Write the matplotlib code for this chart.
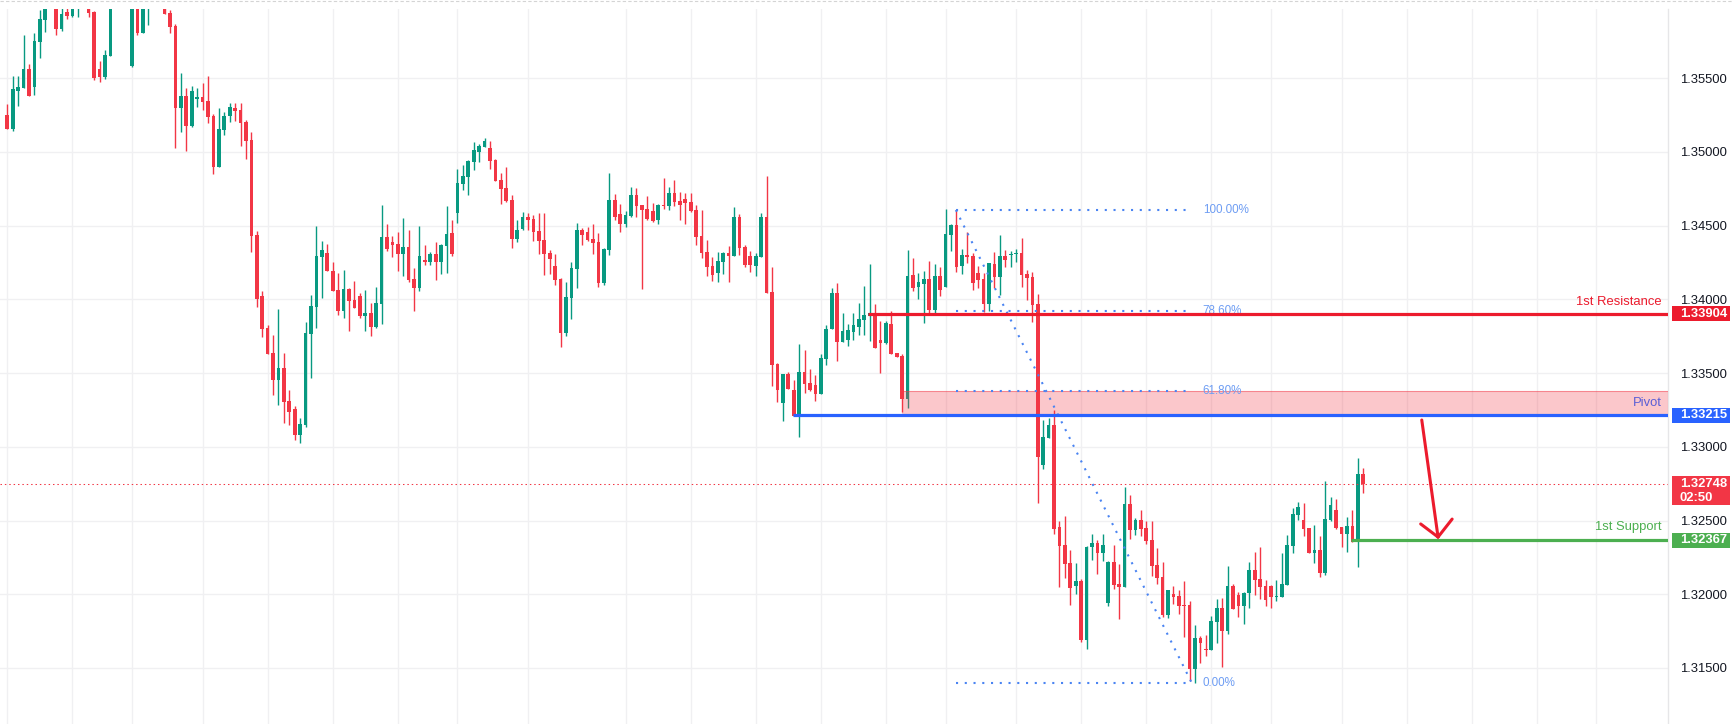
import matplotlib
matplotlib.use('Agg')
import matplotlib.pyplot as plt
from matplotlib.patches import Rectangle
from matplotlib.lines import Line2D
from matplotlib.transforms import blended_transform_factory
import numpy as np

plt.rcParams['font.family'] = ['Liberation Sans', 'DejaVu Sans']

# ---------------- data ----------------
opens = [
    1.35251, 1.35156, 1.35414, 1.35434, 1.35563, 1.35441, 1.35746, 1.35896, 1.36031, 1.36076,
    1.35834, 1.35950, 1.35923, 1.35986, 1.36054, 1.36031, 1.35950, 1.35563, 1.35509, 1.35651,
    1.36031, 1.36122, 1.36076, 1.35584, 1.36076, 1.35807, 1.36009, 1.36076, 1.36099, 1.36054,
    1.35943, 1.35855, 1.35299, 1.35380, 1.35177, 1.35360, 1.35373, 1.35346, 1.35245, 1.34899,
    1.35150, 1.35245, 1.35299, 1.35285, 1.35204, 1.35082, 1.34438, 1.34024, 1.33807, 1.33638,
    1.33455, 1.33536, 1.33312, 1.33258, 1.33082, 1.33150, 1.33767, 1.33950, 1.34289, 1.34316,
    1.34194, 1.34065, 1.33923, 1.34072, 1.33997, 1.34024, 1.33889, 1.33909, 1.33814, 1.33970,
    1.34424, 1.34390, 1.34377, 1.34309, 1.34356, 1.34140, 1.34079, 1.34268, 1.34255, 1.34309,
    1.34255, 1.34363, 1.34451, 1.34587, 1.34783, 1.34830, 1.34932, 1.35000, 1.35034, 1.35027,
    1.34946, 1.34810, 1.34756, 1.34675, 1.34410, 1.34478, 1.34559, 1.34546, 1.34465, 1.34404,
    1.34316, 1.34227, 1.34140, 1.33773, 1.34011, 1.34207, 1.34471, 1.34458, 1.34410, 1.34390,
    1.34112, 1.34336, 1.34675, 1.34580, 1.34512, 1.34566, 1.34708, 1.34641, 1.34614, 1.34600,
    1.34539, 1.34641, 1.34634, 1.34722, 1.34668, 1.34682, 1.34661, 1.34607, 1.34431, 1.34322,
    1.34227, 1.34180, 1.34255, 1.34316, 1.34295, 1.34559, 1.34356, 1.34295, 1.34227, 1.34289,
    1.34559, 1.34051, 1.33563, 1.33299, 1.33495, 1.33387, 1.33211, 1.33509, 1.33435, 1.33421,
    1.33360, 1.33597, 1.33800, 1.34044, 1.33712, 1.33726, 1.33780, 1.33814, 1.33862, 1.33889,
    1.33909, 1.33726, 1.33706, 1.33834, 1.33638, 1.33617, 1.33326, 1.34167, 1.34085, 1.34106,
    1.34140, 1.33929, 1.34160, 1.34085, 1.34438, 1.34505, 1.34227, 1.34302, 1.34295, 1.34180,
    1.34140, 1.33970, 1.34241, 1.34153, 1.34295, 1.34302, 1.34309, 1.34316, 1.34173, 1.34153,
    1.33970, 1.32878, 1.33061, 1.33150, 1.32458, 1.32336, 1.32214, 1.32058, 1.32092, 1.31692,
    1.32322, 1.32349, 1.32281, 1.31943, 1.32220, 1.32072, 1.32052, 1.32614, 1.32438, 1.32506,
    1.32451, 1.32370, 1.32200, 1.32119, 1.31861, 1.32002, 1.31988, 1.31927, 1.31927, 1.31493,
    1.31703, 1.31629, 1.31622, 1.31812, 1.31907, 1.31751, 1.32058, 1.31995, 1.31920, 1.32009,
    1.32164, 1.32104, 1.32058, 1.32058, 1.31981, 1.31981, 1.32065, 1.32329, 1.32537, 1.32503,
    1.32451, 1.32281, 1.32302, 1.32144, 1.32503, 1.32571, 1.32458, 1.32410, 1.32465, 1.32354,
    1.32816,
]
highs = [
    1.35326, 1.35516, 1.35516, 1.35794, 1.35597, 1.35807, 1.35963, 1.36076, 1.36189, 1.36122,
    1.35986, 1.35986, 1.36009, 1.36099, 1.36167, 1.36076, 1.35957, 1.35618, 1.35692, 1.36076,
    1.36167, 1.36189, 1.36122, 1.36076, 1.36122, 1.36076, 1.36122, 1.36167, 1.36144, 1.36099,
    1.35964, 1.35868, 1.35536, 1.35434, 1.35448, 1.35434, 1.35468, 1.35516, 1.35258, 1.35299,
    1.35272, 1.35333, 1.35333, 1.35333, 1.35217, 1.35136, 1.34465, 1.34058, 1.33828, 1.33760,
    1.33936, 1.33638, 1.33387, 1.33278, 1.33197, 1.33848, 1.34031, 1.34499, 1.34397, 1.34377,
    1.34255, 1.34180, 1.34200, 1.34079, 1.34126, 1.34045, 1.34065, 1.33977, 1.34085, 1.34641,
    1.34512, 1.34431, 1.34458, 1.34553, 1.34472, 1.34214, 1.34499, 1.34370, 1.34323, 1.34390,
    1.34377, 1.34634, 1.34539, 1.34885, 1.34912, 1.34946, 1.35068, 1.35055, 1.35095, 1.35075,
    1.34953, 1.34858, 1.34899, 1.34708, 1.34539, 1.34593, 1.34587, 1.34573, 1.34587, 1.34587,
    1.34336, 1.34309, 1.34147, 1.34119, 1.34255, 1.34519, 1.34485, 1.34492, 1.34512, 1.34451,
    1.34349, 1.34858, 1.34715, 1.34647, 1.34600, 1.34763, 1.34756, 1.34641, 1.34702, 1.34654,
    1.34647, 1.34824, 1.34763, 1.34810, 1.34729, 1.34722, 1.34722, 1.34641, 1.34607, 1.34404,
    1.34289, 1.34322, 1.34322, 1.34363, 1.34627, 1.34580, 1.34370, 1.34329, 1.34316, 1.34587,
    1.34838, 1.34220, 1.33570, 1.33495, 1.33509, 1.33455, 1.33699, 1.33658, 1.33529, 1.33489,
    1.33631, 1.33828, 1.34079, 1.34112, 1.33909, 1.33834, 1.33909, 1.33977, 1.34092, 1.34241,
    1.33970, 1.33855, 1.33855, 1.33923, 1.33638, 1.33631, 1.34336, 1.34282, 1.34180, 1.34194,
    1.34261, 1.34241, 1.34220, 1.34614, 1.34512, 1.34607, 1.34343, 1.34458, 1.34316, 1.34227,
    1.34180, 1.34248, 1.34322, 1.34438, 1.34336, 1.34329, 1.34343, 1.34417, 1.34200, 1.34187,
    1.34037, 1.33183, 1.33197, 1.33251, 1.32499, 1.32533, 1.32302, 1.32214, 1.32105, 1.32329,
    1.32410, 1.32370, 1.32410, 1.32227, 1.32336, 1.32207, 1.32729, 1.32675, 1.32519, 1.32574,
    1.32499, 1.32499, 1.32315, 1.32220, 1.32029, 1.32058, 1.32029, 1.32092, 1.31954, 1.31791,
    1.31717, 1.31724, 1.31853, 1.31968, 1.31975, 1.32190, 1.32072, 1.32016, 1.32016, 1.32220,
    1.32286, 1.32320, 1.32099, 1.32065, 1.32099, 1.32281, 1.32404, 1.32585, 1.32626, 1.32619,
    1.32451, 1.32472, 1.32397, 1.32768, 1.32660, 1.32646, 1.32458, 1.32526, 1.32574, 1.32924,
    1.32857,
]
lows = [
    1.35156, 1.35143, 1.35312, 1.35434, 1.35380, 1.35387, 1.35638, 1.35814, 1.36009, 1.35794,
    1.35821, 1.35902, 1.35916, 1.35916, 1.35997, 1.35916, 1.35489, 1.35475, 1.35495, 1.35651,
    1.35997, 1.36009, 1.35986, 1.35577, 1.35794, 1.35807, 1.35862, 1.36031, 1.36009, 1.35936,
    1.35807, 1.35028, 1.35136, 1.35007, 1.35170, 1.35306, 1.35285, 1.35197, 1.34851, 1.34899,
    1.35116, 1.35204, 1.35211, 1.35041, 1.34953, 1.34323, 1.33950, 1.33746, 1.33631, 1.33353,
    1.33285, 1.33163, 1.33150, 1.33048, 1.33028, 1.33136, 1.33468, 1.33807, 1.34011, 1.34194,
    1.34058, 1.33895, 1.33875, 1.33787, 1.33943, 1.33875, 1.33787, 1.33753, 1.33807, 1.33834,
    1.34329, 1.34289, 1.34194, 1.34160, 1.34119, 1.33923, 1.34058, 1.34234, 1.34234, 1.34133,
    1.34173, 1.34180, 1.34295, 1.34519, 1.34742, 1.34708, 1.34878, 1.34932, 1.35034, 1.34885,
    1.34803, 1.34647, 1.34661, 1.34349, 1.34390, 1.34471, 1.34471, 1.34397, 1.34309, 1.34166,
    1.34173, 1.34099, 1.33678, 1.33753, 1.33868, 1.34079, 1.34370, 1.34397, 1.34309, 1.34085,
    1.34099, 1.34302, 1.34539, 1.34458, 1.34492, 1.34559, 1.34559, 1.34072, 1.34539, 1.34525,
    1.34512, 1.34614, 1.34607, 1.34634, 1.34539, 1.34512, 1.34593, 1.34370, 1.34281, 1.34160,
    1.34125, 1.34119, 1.34173, 1.34119, 1.34295, 1.34302, 1.34220, 1.34187, 1.34160, 1.34289,
    1.34044, 1.33414, 1.33306, 1.33172, 1.33394, 1.33211, 1.33064, 1.33367, 1.33380, 1.33312,
    1.33360, 1.33556, 1.33800, 1.33584, 1.33712, 1.33685, 1.33726, 1.33760, 1.33760, 1.33719,
    1.33672, 1.33502, 1.33699, 1.33631, 1.33611, 1.33238, 1.33265, 1.34058, 1.34004, 1.33841,
    1.33902, 1.33909, 1.34024, 1.34085, 1.34329, 1.34187, 1.34173, 1.34248, 1.34065, 1.34079,
    1.33916, 1.33923, 1.34079, 1.34031, 1.34220, 1.34220, 1.34255, 1.34085, 1.33997, 1.33848,
    1.32621, 1.32851, 1.33061, 1.32410, 1.32051, 1.32112, 1.31929, 1.32000, 1.31678, 1.31631,
    1.32234, 1.32139, 1.32227, 1.31923, 1.32038, 1.31834, 1.32052, 1.32377, 1.32404, 1.32397,
    1.32343, 1.32123, 1.32072, 1.31847, 1.31839, 1.31936, 1.31866, 1.31710, 1.31411, 1.31398,
    1.31534, 1.31581, 1.31622, 1.31669, 1.31506, 1.31730, 1.31900, 1.31847, 1.31798, 1.31907,
    1.31995, 1.31968, 1.31920, 1.31907, 1.31954, 1.31981, 1.32065, 1.32281, 1.32503, 1.32397,
    1.32281, 1.32214, 1.32117, 1.32131, 1.32497, 1.32444, 1.32322, 1.32287, 1.32354, 1.32184,
    1.32687,
]
closes = [
    1.35156, 1.35428, 1.35441, 1.35563, 1.35380, 1.35753, 1.35902, 1.36031, 1.36122, 1.35834,
    1.35936, 1.35923, 1.35986, 1.36054, 1.36099, 1.35943, 1.35502, 1.35509, 1.35658, 1.36031,
    1.36122, 1.36076, 1.36009, 1.36031, 1.35807, 1.36031, 1.36076, 1.36099, 1.36054, 1.35936,
    1.35848, 1.35299, 1.35380, 1.35177, 1.35414, 1.35373, 1.35340, 1.35238, 1.34899, 1.35156,
    1.35245, 1.35306, 1.35278, 1.35197, 1.35075, 1.34431, 1.34004, 1.33800, 1.33631, 1.33455,
    1.33536, 1.33306, 1.33238, 1.33082, 1.33156, 1.33773, 1.33956, 1.34295, 1.34336, 1.34194,
    1.34058, 1.33923, 1.34072, 1.33990, 1.33943, 1.33889, 1.33909, 1.33814, 1.33977, 1.34424,
    1.34343, 1.34370, 1.34309, 1.34356, 1.34133, 1.34079, 1.34295, 1.34255, 1.34309, 1.34255,
    1.34370, 1.34444, 1.34309, 1.34790, 1.34837, 1.34939, 1.35014, 1.35041, 1.35075, 1.34939,
    1.34803, 1.34749, 1.34668, 1.34410, 1.34471, 1.34559, 1.34539, 1.34458, 1.34397, 1.34309,
    1.34275, 1.34133, 1.33773, 1.34017, 1.34214, 1.34471, 1.34438, 1.34404, 1.34383, 1.34112,
    1.34343, 1.34675, 1.34559, 1.34512, 1.34573, 1.34708, 1.34634, 1.34607, 1.34546, 1.34532,
    1.34641, 1.34634, 1.34722, 1.34661, 1.34641, 1.34654, 1.34600, 1.34424, 1.34316, 1.34220,
    1.34166, 1.34261, 1.34316, 1.34295, 1.34559, 1.34349, 1.34234, 1.34234, 1.34295, 1.34559,
    1.34044, 1.33556, 1.33387, 1.33495, 1.33394, 1.33211, 1.33509, 1.33428, 1.33387, 1.33360,
    1.33604, 1.33800, 1.34044, 1.33712, 1.33787, 1.33794, 1.33828, 1.33868, 1.33895, 1.33909,
    1.33672, 1.33706, 1.33841, 1.33631, 1.33611, 1.33326, 1.34160, 1.34079, 1.34119, 1.34140,
    1.33929, 1.34160, 1.34065, 1.34444, 1.34505, 1.34220, 1.34302, 1.34289, 1.34112, 1.34133,
    1.33970, 1.34248, 1.34153, 1.34295, 1.34268, 1.34309, 1.34316, 1.34166, 1.34146, 1.33963,
    1.32933, 1.33068, 1.33150, 1.32444, 1.32329, 1.32207, 1.32044, 1.32092, 1.31692, 1.32322,
    1.32349, 1.32281, 1.32336, 1.32220, 1.32065, 1.32052, 1.32614, 1.32438, 1.32506, 1.32444,
    1.32363, 1.32193, 1.32112, 1.31861, 1.32029, 1.31981, 1.31920, 1.31920, 1.31493, 1.31703,
    1.31669, 1.31622, 1.31819, 1.31907, 1.31751, 1.32058, 1.31900, 1.31920, 1.32009, 1.32164,
    1.32097, 1.32052, 1.31961, 1.31981, 1.31988, 1.32072, 1.32336, 1.32544, 1.32592, 1.32444,
    1.32281, 1.32302, 1.32144, 1.32510, 1.32605, 1.32451, 1.32410, 1.32465, 1.32354, 1.32816,
    1.32748,
]

price_ticks = [1.315, 1.320, 1.325, 1.330, 1.335, 1.340, 1.345, 1.350, 1.355]
time_grid = [0, 12, 23, 36, 48, 60, 72, 83, 96, 114, 126, 138, 150, 162, 173,
             186, 198, 210, 222, 233, 246, 258, 270, 282, 293]

resistance = 1.33904
pivot = 1.33215
support = 1.32367
current_price = 1.32748
countdown = "02:50"
fib_high = 1.34607
fib_low = 1.31398
fib_levels = [1.0, 0.786, 0.618, 0.0]
fib_labels = ["100.00%", "78.60%", "61.80%", "0.00%"]
fib_x = [174.9, 218.4]           # bar index of the fib drawing ends
pivot_start, resistance_start, zone_start, support_start = 144.9, 158.7, 164.9, 247.7
arrow_pts = [(260.8, 1.33182), (263.8, 1.32388)]
arrow_head = [(260.6, 1.32477), (266.4, 1.32510)]

# ---------------- style ----------------
GREEN = '#089981'
RED = '#f23645'
RES_RED = '#ec1b2d'
BLUE = '#2962ff'
SUP_GREEN = '#4caf50'
FIB_BLUE = '#4a84f2'
FIB_TXT = '#6e9df3'
GRID = '#f0f0f2'

W, H = 1733, 724
fig = plt.figure(figsize=(W / 100, H / 100), dpi=100)
fig.patch.set_facecolor('white')
ax = fig.add_axes([0, 0, 1668 / W, (H - 9) / H])
ax.set_facecolor('white')

n = len(opens)
x = np.arange(n)
o = np.array(opens); h = np.array(highs); l = np.array(lows); c = np.array(closes)
up = c >= o
cols = np.where(up, GREEN, RED)

ax.set_xlim(-1.346, 306.2)
ax.set_ylim(1.31120, 1.35970)

# grid
ax.set_xticks(time_grid)
ax.set_yticks(price_ticks)
ax.grid(True, color=GRID, linewidth=1.0, zorder=0)
ax.set_axisbelow(True)
ax.tick_params(axis='x', length=0, labelbottom=False)
ax.yaxis.tick_right()
ax.tick_params(axis='y', length=0, pad=8.6, labelsize=9.4, labelcolor='#131722')
ax.set_yticklabels([f"{v:.5f}" for v in price_ticks])
for s in ['left', 'top', 'bottom']:
    ax.spines[s].set_visible(False)
ax.spines['right'].set_color('#e6e6e8')
ax.spines['right'].set_linewidth(1.0)

# candles
ax.vlines(x, l, h, colors=cols, linewidth=1.0, zorder=2)
body_lo = np.minimum(o, c)
body_h = np.maximum(np.abs(c - o), 0.00006)
ax.bar(x, body_h, bottom=body_lo, width=0.68, color=cols, linewidth=0, zorder=2)

xr = ax.get_xlim()[1]

# pink zone between 61.8% and pivot
fib_618 = fib_low + 0.618 * (fib_high - fib_low)
ax.add_patch(Rectangle((zone_start, pivot), xr - zone_start, fib_618 - pivot,
                       facecolor=RED, alpha=0.28, edgecolor='none', zorder=3))
ax.plot([zone_start, xr], [fib_618, fib_618], color=RED, alpha=0.45, lw=0.8, zorder=3)

# fib retracement
for lv, lab in zip(fib_levels, fib_labels):
    p = fib_low + lv * (fib_high - fib_low)
    ax.plot(fib_x, [p, p], color=FIB_BLUE, lw=1.5, linestyle=(0, (1, 3.2)),
            dash_capstyle='butt', zorder=4)
    ax.annotate(lab, xy=(fib_x[1], p), xytext=(11, 0), textcoords='offset pixels',
                ha='left', va='center', fontsize=8.4, color=FIB_TXT, zorder=4)
ax.plot(fib_x, [fib_high, fib_low], color=FIB_BLUE, lw=1.5, linestyle=(0, (1, 3.2)),
        zorder=4)

# current price dotted line
ax.axhline(current_price, color=RED, lw=0.75, linestyle=(0, (1.4, 2.8)), zorder=3)

# levels
ax.plot([resistance_start, xr], [resistance, resistance], color=RES_RED, lw=2.3,
        solid_capstyle='butt', zorder=5)
ax.plot([pivot_start, xr], [pivot, pivot], color=BLUE, lw=2.3,
        solid_capstyle='butt', zorder=5)
ax.plot([support_start, xr], [support, support], color=SUP_GREEN, lw=2.3,
        solid_capstyle='butt', zorder=5)

for txt, lvl, col, dy in [("1st Resistance", resistance, RES_RED, 12),
                          ("Pivot", pivot, '#5a5ed6', 12),
                          ("1st Support", support, SUP_GREEN, 13)]:
    ax.annotate(txt, xy=(1.0, lvl), xycoords=('axes fraction', 'data'),
                xytext=(-6, dy), textcoords='offset pixels', ha='right', va='center',
                fontsize=9.4, color=col, zorder=6)

# red arrow
ax.plot([arrow_pts[0][0], arrow_pts[1][0]], [arrow_pts[0][1], arrow_pts[1][1]],
        color=RES_RED, lw=2.2, solid_capstyle='round', zorder=6)
for hx, hy in arrow_head:
    ax.plot([hx, arrow_pts[1][0]], [hy, arrow_pts[1][1]], color=RES_RED, lw=2.2,
            solid_capstyle='round', zorder=6)

# price-axis label boxes
y0, y1 = ax.get_ylim()
px = (y1 - y0) / (H - 9)        # price per pixel
tr = blended_transform_factory(fig.transFigure, ax.transData)
bx0, bx1 = 1672 / W, 1730 / W
tx = 1680 / W


def box(level, color, lines):
    top = level + 7.5 * px
    hgt = (15 + 14 * (len(lines) - 1)) * px
    ax.add_patch(Rectangle((bx0, top - hgt), bx1 - bx0, hgt, transform=tr,
                           facecolor=color, edgecolor='none', clip_on=False, zorder=7))
    for k, t in enumerate(lines):
        ax.text(tx, level - k * 14 * px, t, transform=tr, ha='left', va='center',
                fontsize=9.4, color='white', fontweight='bold', clip_on=False, zorder=8)


box(resistance, RES_RED, [f"{resistance:.5f}"])
box(pivot, BLUE, [f"{pivot:.5f}"])
box(current_price, RED, [f"{current_price:.5f}", countdown])
box(support, SUP_GREEN, [f"{support:.5f}"])

# top border of the screenshot
fig.add_artist(Line2D([0, 1], [1 - 0.8 / H, 1 - 0.8 / H], transform=fig.transFigure,
                      color='#d4d4d4', lw=0.8, linestyle=(0, (3, 2))))

fig.savefig('out.png', dpi=100, facecolor='white')
